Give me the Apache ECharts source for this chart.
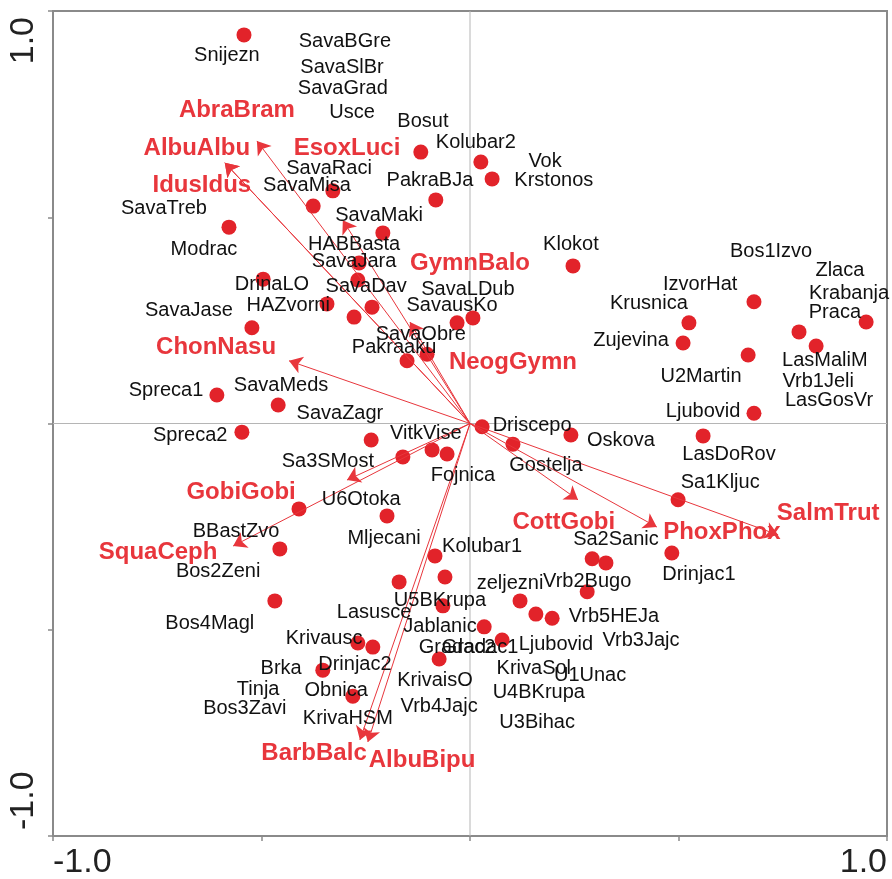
<!DOCTYPE html>
<html>
<head>
<meta charset="utf-8">
<script src="https://cdn.jsdelivr.net/npm/echarts@6/dist/echarts.min.js"></script>
<style>
html,body{margin:0;padding:0;background:#fff;}
#chart{width:892px;height:879px;}
</style>
</head>
<body>
<div id="chart"></div>
<script>
// ---- data (ordination scores) ----
const sitePoints = [
  [-0.542,0.942],[-0.118,0.658],[0.026,0.634],[0.053,0.593],[-0.329,0.564],
  [-0.082,0.542],[-0.376,0.527],[-0.578,0.476],[-0.209,0.462],[-0.266,0.389],
  [-0.269,0.348],[-0.496,0.350],[-0.343,0.290],[-0.235,0.282],[-0.278,0.258],
  [-0.523,0.232],[-0.031,0.244],[0.007,0.256],[-0.151,0.152],[-0.103,0.168],
  [0.247,0.382],[0.681,0.295],[0.525,0.244],[0.511,0.195],[0.667,0.166],
  [0.789,0.222],[0.830,0.188],[0.950,0.246],[0.681,0.025],[0.029,-0.008],
  [-0.607,0.069],[-0.460,0.045],[-0.547,-0.021],[-0.237,-0.040],[-0.161,-0.081],
  [-0.091,-0.064],[-0.055,-0.074],[-0.410,-0.207],[-0.199,-0.224],[-0.456,-0.304],
  [-0.084,-0.321],[-0.170,-0.384],[-0.060,-0.372],[-0.468,-0.430],[-0.065,-0.442],
  [0.242,-0.028],[0.103,-0.050],[0.559,-0.030],[0.499,-0.185],[0.484,-0.314],
  [0.293,-0.328],[0.326,-0.338],[0.281,-0.408],[-0.269,-0.532],[-0.233,-0.542],
  [-0.353,-0.598],[-0.281,-0.661],[-0.074,-0.571],[0.120,-0.430],[0.158,-0.462],
  [0.197,-0.472],[0.034,-0.493],[0.077,-0.525]
];
const siteLabelNames = [
  'Snijezn','SavaBGre','SavaSlBr','SavaGrad','Usce','Bosut','Kolubar2','Vok','Krstonos',
  'SavaRaci','SavaMisa','PakraBJa','SavaTreb','Modrac','SavaMaki','HABBasta','SavaJara',
  'DrinaLO','SavaDav','SavaLDub','SavausKo','HAZvorni','SavaJase','SavaObre','Pakraaku',
  'Klokot','Bos1Izvo','Zlaca','IzvorHat','Krabanja','Krusnica','Praca','Zujevina',
  'LasMaliM','U2Martin','Vrb1Jeli','LasGosVr','Ljubovid','Driscepo','Spreca1','SavaMeds',
  'SavaZagr','Spreca2','VitkVise','Sa3SMost','Fojnica','U6Otoka','BBastZvo','Mljecani',
  'Bos2Zeni','Kolubar1','U5BKrupa','Lasusce','Bos4Magl','Oskova','Gostelja','LasDoRov',
  'Sa1Kljuc','Sa2Sanic','Drinjac1','zeljezni','Vrb2Bugo','Vrb5HEJa','Jablanic','Vrb3Jajc',
  'Gradac2','Gradac1','Ljubovid','KrivaSol','U1Unac','KrivaisO','U4BKrupa','Vrb4Jajc',
  'U3Bihac','Krivausc','Brka','Drinjac2','Tinja','Obnica','Bos3Zavi','KrivaHSM'
];
const siteLabelPos = [
  [-0.583,0.893],[-0.300,0.927],[-0.307,0.864],[-0.305,0.813],[-0.283,0.753],[-0.113,0.731],
  [0.014,0.682],[0.180,0.634],[0.201,0.588],[-0.338,0.619],[-0.391,0.578],[-0.096,0.590],
  [-0.734,0.522],[-0.638,0.421],[-0.218,0.505],[-0.278,0.433],[-0.278,0.392],[-0.475,0.338],
  [-0.249,0.331],[-0.005,0.324],[-0.043,0.287],[-0.436,0.287],[-0.674,0.275],[-0.118,0.215],
  [-0.182,0.185],[0.242,0.433],[0.722,0.416],[0.887,0.372],[0.552,0.338],[0.909,0.316],
  [0.429,0.292],[0.875,0.270],[0.386,0.202],[0.851,0.152],[0.554,0.115],[0.835,0.101],
  [0.861,0.055],[0.559,0.028],[0.149,-0.006],[-0.729,0.079],[-0.453,0.093],[-0.312,0.025],
  [-0.671,-0.028],[-0.106,-0.023],[-0.341,-0.093],[-0.017,-0.127],[-0.261,-0.185],
  [-0.561,-0.261],[-0.206,-0.278],[-0.604,-0.358],[0.029,-0.297],[-0.072,-0.428],
  [-0.230,-0.459],[-0.624,-0.486],[0.362,-0.040],[0.182,-0.101],[0.621,-0.076],
  [0.600,-0.144],[0.350,-0.282],[0.549,-0.367],[0.096,-0.389],[0.281,-0.384],
  [0.345,-0.467],[-0.072,-0.493],[0.410,-0.525],[-0.031,-0.542],[0.024,-0.544],
  [0.206,-0.535],[0.153,-0.593],[0.288,-0.612],[-0.084,-0.622],[0.165,-0.651],
  [-0.074,-0.685],[0.161,-0.726],[-0.350,-0.520],[-0.453,-0.593],[-0.276,-0.585],
  [-0.508,-0.646],[-0.321,-0.648],[-0.540,-0.690],[-0.293,-0.714]
];
const speciesArrowNames = ['AbraBram','AlbuAlbu','IdusIdus','EsoxLuci','GymnBalo','ChonNasu',
  'GobiGobi','SquaCeph','CottGobi','PhoxPhox','SalmTrut','BarbBalc','AlbuBipu'];
const speciesArrowTips = [
  [-0.511,0.685],[-0.588,0.632],[-0.588,0.632],[-0.305,0.493],[-0.144,0.246],[-0.434,0.152],
  [-0.295,-0.137],[-0.568,-0.297],[0.259,-0.185],[0.448,-0.251],[0.739,-0.270],
  [-0.264,-0.767],[-0.245,-0.772]
];
const speciesLabelNames = ['AbraBram','AlbuAlbu','IdusIdus','EsoxLuci','GymnBalo','ChonNasu',
  'NeogGymn','GobiGobi','SquaCeph','CottGobi','PhoxPhox','SalmTrut','BarbBalc','AlbuBipu'];
const speciesLabelPos = [
  [-0.559,0.758],[-0.655,0.668],[-0.643,0.578],[-0.295,0.668],[0.000,0.389],[-0.609,0.185],
  [0.103,0.147],[-0.549,-0.168],[-0.748,-0.312],[0.225,-0.239],[0.604,-0.263],[0.859,-0.219],
  [-0.374,-0.799],[-0.115,-0.816]
];
const axisTickLabels = {'-1': '-1.0', '1': '1.0'};

// ---- chart ----
const chart = echarts.init(document.getElementById('chart'), null, {renderer: 'canvas'});
const FONT = "'Liberation Sans', Arial, sans-serif";
const RED_DOT = '#e2232a';
const RED_TXT = '#e8363c';
const fmt = v => axisTickLabels[String(v)] || '';

const axisCommon = {
  type: 'value', min: -1, max: 1, interval: 0.5,
  axisLine: {show: true, onZero: false, lineStyle: {color: '#8a8a8a', width: 2}},
  axisTick: {show: true, length: 5, inside: false, lineStyle: {color: '#8a8a8a', width: 1.5}},
  splitLine: {show: false},
};

chart.setOption({
  animation: false,
  backgroundColor: '#ffffff',
  grid: {left: 53, right: 5, top: 11, bottom: 43, show: true, borderColor: '#8a8a8a', borderWidth: 2,
         containLabel: false, outerBoundsMode: 'none'},
  xAxis: Object.assign({}, axisCommon, {
    axisLabel: {formatter: fmt, fontSize: 34, color: '#222', fontFamily: FONT, margin: 10,
                alignMinLabel: 'left', alignMaxLabel: 'right', showMinLabel: true, showMaxLabel: true}
  }),
  yAxis: Object.assign({}, axisCommon, {
    axisLabel: {formatter: fmt, fontSize: 34, color: '#222', fontFamily: FONT, margin: 12, rotate: 90,
                alignMinLabel: 'left', alignMaxLabel: 'right', showMinLabel: true, showMaxLabel: true,
                padding: [0, 6, 0, 6]}
  }),
  series: [
    {
      type: 'line', data: [[-1, 0], [1, 0]], symbol: 'none', silent: true, z: 1,
      lineStyle: {color: '#b5b5b5', width: 1}
    },
    {
      type: 'line', data: [[0, -1], [0, 1]], symbol: 'none', silent: true, z: 1,
      lineStyle: {color: '#b5b5b5', width: 1}
    },
    {
      type: 'scatter', data: sitePoints, symbol: 'circle', symbolSize: 15, silent: true, z: 2,
      itemStyle: {color: RED_DOT, opacity: 1}
    },
    {
      type: 'lines', coordinateSystem: 'cartesian2d', silent: true, z: 3,
      symbol: ['none', 'arrow'], symbolSize: 13,
      lineStyle: {color: RED_TXT, width: 1, opacity: 1},
      data: speciesArrowTips.map((t, i) => ({name: speciesArrowNames[i], coords: [[0, 0], t]}))
    },
    {
      type: 'scatter', symbol: 'circle', symbolSize: 1, silent: true, z: 4,
      itemStyle: {color: 'rgba(0,0,0,0)', opacity: 1},
      data: siteLabelPos.map((p, i) => ({name: siteLabelNames[i], value: p})),
      label: {show: true, position: 'inside', formatter: '{b}', color: '#111',
              fontSize: 20, fontFamily: FONT, opacity: 1}
    },
    {
      type: 'scatter', symbol: 'circle', symbolSize: 1, silent: true, z: 5,
      itemStyle: {color: 'rgba(0,0,0,0)', opacity: 1},
      data: speciesLabelPos.map((p, i) => ({name: speciesLabelNames[i], value: p})),
      label: {show: true, position: 'inside', formatter: '{b}', color: RED_TXT,
              fontSize: 24, fontWeight: 'bold', fontFamily: FONT, opacity: 1}
    }
  ]
});
</script>
</body>
</html>
